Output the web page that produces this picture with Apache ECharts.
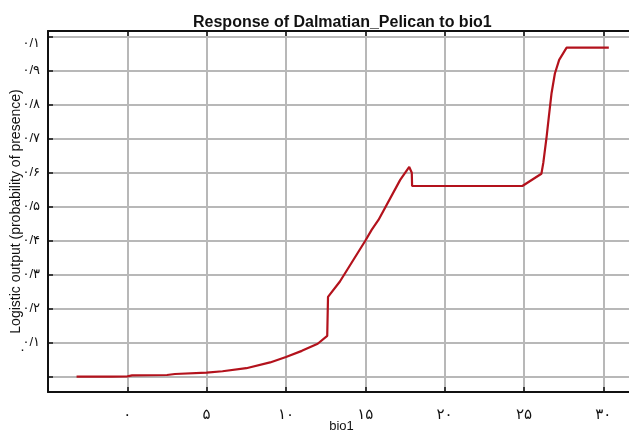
<!DOCTYPE html>
<html>
<head>
<meta charset="utf-8">
<script src="https://cdn.jsdelivr.net/npm/echarts@6/dist/echarts.min.js"></script>
<style>
  html, body { margin: 0; padding: 0; background: #fff; }
  #main { width: 629px; height: 430px; }
</style>
</head>
<body>
<div id="main"></div>
<script>
  // response curve: [bio1, logistic output]
  const bio1 = [-3.2, -1, 0, 0.3, 2.5, 3, 5, 6, 7.5, 9, 10, 11, 12, 12.6, 12.65, 13.4, 15.0, 15.4, 15.83, 17.2, 17.77, 17.93, 17.95, 24.9, 26.1, 26.22, 26.43, 26.57, 26.74, 26.95, 27.22, 27.69, 30.35]
  const output = [0, 0, 0.001, 0.004, 0.005, 0.008, 0.012, 0.016, 0.025, 0.042, 0.058, 0.076, 0.097, 0.12, 0.235, 0.28, 0.40, 0.432, 0.461, 0.579, 0.617, 0.60, 0.561, 0.561, 0.597, 0.629, 0.706, 0.765, 0.834, 0.892, 0.932, 0.968, 0.968]

  const xTickLabels = {0: '۰', 5: '۵', 10: '۱۰', 15: '۱۵', 20: '۲۰', 25: '۲۵', 30: '۳۰'}
  const yTicks = [0, 0.1, 0.2, 0.3, 0.4, 0.5, 0.6, 0.7, 0.8, 0.9, 1]
  const yTickLabels = ['۰', '۰/۱', '۰/۲', '۰/۳', '۰/۴', '۰/۵', '۰/۶', '۰/۷', '۰/۸', '۰/۹', '۰/۱']

  const font = 'Liberation Sans, Arial, DejaVu Sans, sans-serif'

  const chart = echarts.init(document.getElementById('main'))
  chart.setOption({
    animation: false,
    backgroundColor: '#fff',
    title: {
      text: 'Response of Dalmatian_Pelican to bio1',
      left: 188,
      top: 10,
      textStyle: { fontFamily: font, fontSize: 16, fontWeight: 'bold', color: '#111' }
    },
    // the zero label sits loose, above its gridline, in the source picture
    graphic: [
      {
        type: 'text',
        left: 19,
        top: 344,
        style: { text: yTickLabels[0], font: '13px ' + font, fill: '#111' }
      }
    ],
    grid: { left: 48, top: 31, right: -6, bottom: 38, outerBoundsMode: 'none' },
    xAxis: [
      {
        type: 'value',
        min: -5,
        max: 32,
        interval: 5,
        name: 'bio1',
        nameLocation: 'middle',
        nameGap: 28,
        nameMoveOverlap: false,
        nameTextStyle: { fontFamily: font, fontSize: 13, color: '#111' },
        axisLine: { onZero: false, lineStyle: { color: '#111', width: 2 } },
        axisTick: { inside: true, length: 5, lineStyle: { color: '#111', width: 1.5 } },
        axisLabel: {
          margin: 15,
          fontFamily: font,
          fontSize: 15,
          color: '#111',
          formatter: v => xTickLabels[v] || ''
        },
        splitLine: { show: true, lineStyle: { color: '#b8b8b8', width: 2 } }
      },
      {
        type: 'value',
        position: 'top',
        min: -5,
        max: 32,
        interval: 5,
        axisLine: { show: true, onZero: false, lineStyle: { color: '#111', width: 2 } },
        axisTick: { show: true, inside: true, length: 5, lineStyle: { color: '#111', width: 1.5 } },
        axisLabel: { show: false },
        splitLine: { show: false }
      }
    ],
    yAxis: {
      type: 'value',
      min: -0.045,
      max: 1.017,
      name: 'Logistic output (probability of presence)',
      nameLocation: 'middle',
      nameGap: 25,
      nameMoveOverlap: false,
      nameTextStyle: { fontFamily: font, fontSize: 14, color: '#111' },
      axisLine: { show: true, onZero: false, lineStyle: { color: '#111', width: 2 } },
      axisTick: { inside: true, length: 5, customValues: yTicks, lineStyle: { color: '#111', width: 1.5 } },
      axisLabel: {
        customValues: yTicks,
        margin: 8,
        fontFamily: font,
        fontSize: 13,
        color: '#111',
        formatter: v => {
          const i = yTicks.findIndex(t => Math.abs(t - v) < 1e-6)
          if (i <= 0) return ''
          if (i === yTicks.length - 1) return '{hi|' + yTickLabels[i] + '}'
          return yTickLabels[i]
        },
        rich: {
          hi: { fontFamily: font, fontSize: 13, color: '#111', padding: [14, 0, 0, 0] }
        }
      },
      splitLine: { show: true, lineStyle: { color: '#b8b8b8', width: 2 } }
    },
    series: [
      {
        type: 'line',
        data: bio1.map((x, i) => [x, output[i]]),
        showSymbol: false,
        lineStyle: { color: '#b3121c', width: 2.2 },
        itemStyle: { color: '#b3121c' }
      }
    ]
  })
</script>
</body>
</html>
